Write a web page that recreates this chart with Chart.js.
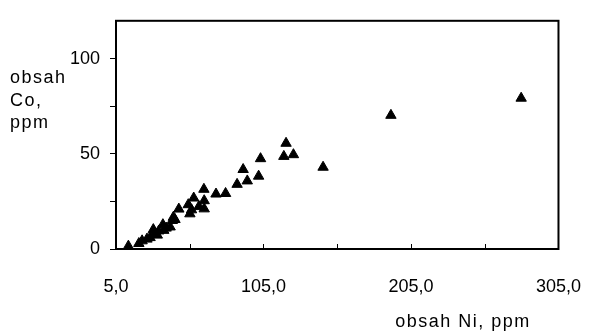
<!DOCTYPE html>
<html>
<head>
<meta charset="utf-8">
<script src="https://cdn.jsdelivr.net/npm/chart.js@4.4.1/dist/chart.umd.min.js"></script>
<style>
  html, body { margin: 0; padding: 0; background: #fff; }
  #wrap { width: 608px; height: 333px; position: relative; }
</style>
</head>
<body>
<div id="wrap"><canvas id="scatterChart"></canvas></div>
<script>
// Ni vs Co contents (ppm)
const niValues = [13.4, 20.5, 22.7, 26, 28.1, 30.3, 31, 33, 34, 36.8, 37.4, 39, 41.7, 43.2, 43.9, 45, 47.6,
                  54, 55.1, 56.2, 57.7, 61.2, 64.6, 64.8, 64.8, 72.8, 79.3, 87.1, 91.2, 94, 101.7, 103,
                  118.8, 120.3, 125.3, 145.4, 191.4, 279.7];
const coValues = [1.5, 2.9, 4.3, 5.2, 6, 10.2, 8, 7.3, 9.5, 12.8, 9.8, 11, 11.6, 15, 16.7, 15.5, 21,
                  23.3, 18.5, 20.6, 26.8, 22.3, 31.4, 25.4, 21.1, 28.9, 29.2, 34, 41.8, 35.8, 38.3, 47.5,
                  48.7, 55.6, 49.6, 43, 70.3, 79.3];
const xTicks = [5, 55, 105, 155, 205, 255, 305];
const xLabeled = [5, 105, 205, 305];
const yTicks = [0, 25, 50, 75, 100];
const yLabeled = [0, 50, 100];

const points = niValues.map((v, i) => ({ x: v, y: coValues[i] }));
const fontFamily = '"Liberation Sans", Arial, sans-serif';

const framePlugin = {
    id: 'frame',
    afterDraw(chart) {
        const ctx = chart.ctx;
        const a = chart.chartArea;
        const xs = chart.scales.x;
        ctx.save();
        ctx.strokeStyle = '#000';
        ctx.lineWidth = 2;
        ctx.strokeRect(a.left, a.top, a.right - a.left, a.bottom - a.top);
        // inside tick marks on the x axis
        ctx.lineWidth = 1;
        xTicks.forEach(v => {
            const px = Math.round(xs.getPixelForValue(v)) + 0.5;
            ctx.beginPath();
            ctx.moveTo(px, a.bottom);
            ctx.lineTo(px, a.bottom - 5);
            ctx.stroke();
        });
        // axis titles
        ctx.fillStyle = '#000';
        ctx.font = '18px ' + fontFamily;
        ctx.letterSpacing = '1.5px';
        ctx.textBaseline = 'alphabetic';
        ctx.textAlign = 'left';
        ['obsah', 'Co,', 'ppm'].forEach((t, i) => ctx.fillText(t, 10, 83 + i * 22.5));
        ctx.textAlign = 'center';
        ctx.fillText('obsah Ni, ppm', 463, 327);
        ctx.restore();
    }
};

const ctx = document.getElementById('scatterChart').getContext('2d');
new Chart(ctx, {
    type: 'scatter',
    data: {
        datasets: [{
            label: 'Co',
            data: points,
            pointStyle: 'triangle',
            pointRadius: 6,
            pointHoverRadius: 6,
            backgroundColor: '#000',
            borderColor: '#000',
            borderWidth: 1
        }]
    },
    options: {
        responsive: true,
        maintainAspectRatio: false,
        animation: false,
        layout: { padding: { left: 0, top: 16, right: 29, bottom: 0 } },
        plugins: {
            legend: { display: false },
            tooltip: { enabled: false }
        },
        scales: {
            x: {
                type: 'linear',
                min: 5,
                max: 305,
                afterBuildTicks: scale => { scale.ticks = xTicks.map(v => ({ value: v })); },
                afterFit: scale => { scale.height = 84; },
                grid: { display: true, drawOnChartArea: false, drawTicks: false },
                border: { display: false },
                ticks: {
                    color: '#000',
                    padding: 27,
                    maxRotation: 0,
                    autoSkip: false,
                    font: { family: fontFamily, size: 18 },
                    callback: v => xLabeled.includes(v) ? v.toFixed(1).replace('.', ',') : ''
                }
            },
            y: {
                min: 0,
                max: 120,
                afterBuildTicks: scale => { scale.ticks = yTicks.map(v => ({ value: v })); },
                afterFit: scale => { scale.width = 116; },
                grid: { display: true, drawOnChartArea: false, drawTicks: true, tickLength: 6, color: '#000' },
                border: { display: false },
                ticks: {
                    color: '#000',
                    padding: 10,
                    autoSkip: false,
                    font: { family: fontFamily, size: 18 },
                    callback: v => yLabeled.includes(v) ? String(v) : ''
                }
            }
        }
    },
    plugins: [framePlugin]
});
</script>
</body>
</html>
